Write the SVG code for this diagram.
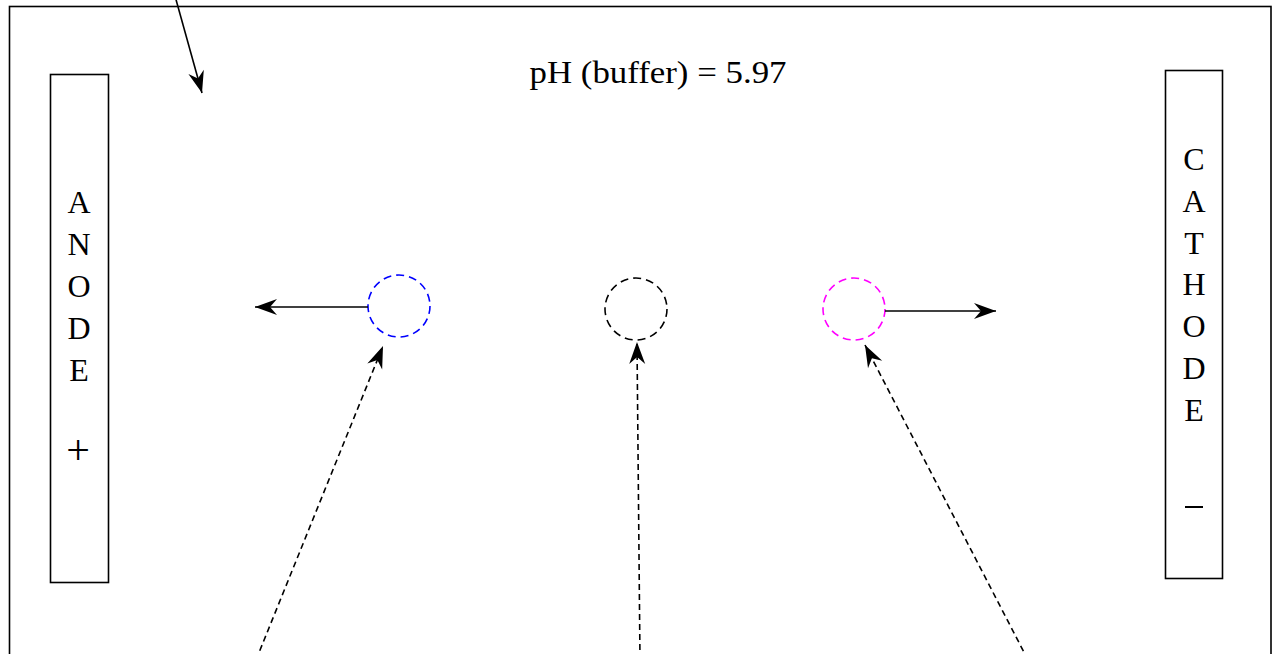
<svg xmlns="http://www.w3.org/2000/svg" width="1272" height="654" viewBox="0 0 1272 654">
<style>
.frame{fill:none;stroke:#000;stroke-width:1.6}
.box{fill:#fff;stroke:#000;stroke-width:1.6}
.lbl{font-family:"Liberation Serif","Times New Roman",serif;font-size:32px;fill:#000;text-anchor:middle}
.ion{fill:none;stroke-width:1.6;stroke-dasharray:8,5}
.solid{fill:none;stroke:#000;stroke-width:1.6}
.dash{fill:none;stroke:#000;stroke-width:1.6;stroke-dasharray:6,4}
</style>
<defs>
<marker id="ah" viewBox="-23 -9 24 18" refX="0" refY="0" markerWidth="24" markerHeight="18" markerUnits="userSpaceOnUse" orient="auto">
<path d="M0,0 L-22,-8 L-15,0 L-22,8 Z" fill="#000"/>
</marker>
</defs>
<rect width="1272" height="654" fill="#fff"/>
<g id="frame">
<rect class="frame" x="9.5" y="6.5" width="1261.5" height="700"/>
</g>
<g id="title">
<text class="lbl" x="658" y="83" textLength="257" lengthAdjust="spacingAndGlyphs">pH (buffer) = 5.97</text>
</g>
<g id="anode">
<rect class="box" x="50.5" y="74.5" width="58" height="508"/>
<text class="lbl" x="79" y="213">A</text>
<text class="lbl" x="79" y="255">N</text>
<text class="lbl" x="79" y="297">O</text>
<text class="lbl" x="79" y="339">D</text>
<text class="lbl" x="79" y="381">E</text>
<text class="lbl" x="78" y="464" style="font-size:42px">+</text>
</g>
<g id="cathode">
<rect class="box" x="1165.5" y="70.5" width="57" height="508"/>
<text class="lbl" x="1194" y="170">C</text>
<text class="lbl" x="1194" y="212">A</text>
<text class="lbl" x="1194" y="254">T</text>
<text class="lbl" x="1194" y="295">H</text>
<text class="lbl" x="1194" y="337">O</text>
<text class="lbl" x="1194" y="379">D</text>
<text class="lbl" x="1194" y="421">E</text>
<line x1="1185" y1="507" x2="1203" y2="507" stroke="#000" stroke-width="2"/>
</g>
<g id="ion-neg">
<circle class="ion" cx="399" cy="306" r="31" stroke="#0000ff"/>
</g>
<g id="ion-neutral">
<circle class="ion" cx="636" cy="309" r="31" stroke="#000"/>
</g>
<g id="ion-pos">
<circle class="ion" cx="854" cy="309" r="31" stroke="#ff00ff"/>
</g>
<g id="connectors">
<line class="solid" x1="175" y1="-4" x2="202" y2="93" marker-end="url(#ah)"/>
<line class="solid" x1="368" y1="307" x2="255" y2="307" marker-end="url(#ah)"/>
<line class="solid" x1="885" y1="311" x2="996" y2="311" marker-end="url(#ah)"/>
<line class="dash" x1="256" y1="660" x2="383" y2="346" marker-end="url(#ah)"/>
<line class="dash" x1="640" y1="660" x2="637" y2="342" marker-end="url(#ah)"/>
<line class="dash" x1="1028" y1="660" x2="865" y2="345" marker-end="url(#ah)"/>
</g>
</svg>
